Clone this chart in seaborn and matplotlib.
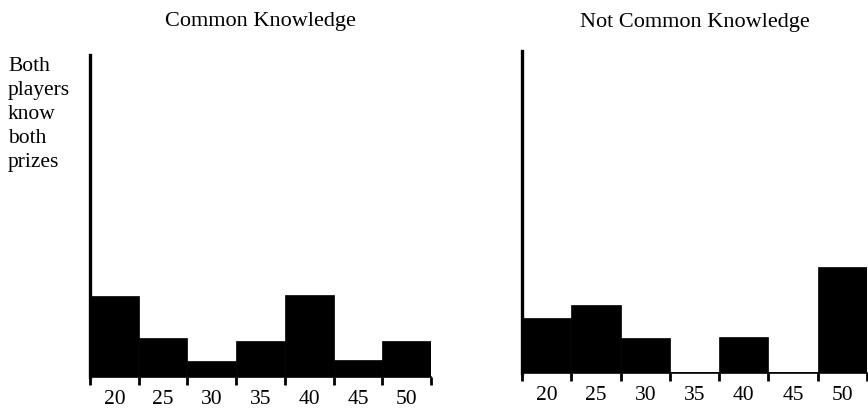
import matplotlib
matplotlib.use("Agg")
import matplotlib.pyplot as plt
import seaborn as sns
import pandas as pd

# Data (percent of choices per prize bin)
prizes = ["20", "25", "30", "35", "40", "45", "50"]
common_pct = [26.3, 12.6, 5.1, 11.7, 26.9, 5.6, 11.7]
not_common_pct = [18.0, 22.3, 11.4, 0.4, 11.9, 0.4, 34.6]

sns.set_style("white")
plt.rcParams["font.family"] = ["Liberation Serif", "DejaVu Serif"]
plt.rcParams["text.color"] = "black"
plt.rcParams["xtick.color"] = "black"
plt.rcParams["xtick.labelcolor"] = "black"

fig = plt.figure(figsize=(8.68, 4.08), dpi=100)
ax1 = fig.add_axes([90 / 868, 1 - 377 / 408, 341 / 868, 322 / 408])
ax2 = fig.add_axes([522 / 868, 1 - 373 / 408, 345 / 868, 322 / 408])

panels = [
    (ax1, common_pct, "Common Knowledge", 21),
    (ax2, not_common_pct, "Not Common Knowledge", 17),
]

for ax, vals, title, pad in panels:
    df = pd.DataFrame({"prize": prizes, "pct": vals})
    sns.barplot(data=df, x="prize", y="pct", color="black", width=1.0,
                saturation=1, edgecolor="black", linewidth=0.5, ax=ax)
    ax.set_xlim(-0.5, len(prizes) - 0.5)
    ax.set_ylim(0, 105)
    ax.set_xlabel("")
    ax.set_ylabel("")
    ax.set_yticks([])
    # labels at bar centres, tick marks at bin edges
    ax.set_xticks(range(len(prizes)), prizes)
    ax.set_xticks([i - 0.5 for i in range(len(prizes) + 1)], minor=True)
    ax.tick_params(axis="x", which="major", length=0, labelsize=15.5, pad=9,
                   labelcolor="black")
    ax.tick_params(axis="x", which="minor", length=6, width=2,
                   direction="out", color="black", bottom=True)
    for s in ["top", "right"]:
        ax.spines[s].set_visible(False)
    ax.spines["left"].set_linewidth(2.4)
    ax.spines["left"].set_color("black")
    ax.spines["bottom"].set_linewidth(1.2)
    ax.spines["bottom"].set_color("black")
    ax.set_title(title, fontsize=16, pad=pad, color="black")

fig.text(8 / 868, 1 - 57 / 408, "Both\nplayers\nknow\nboth\nprizes",
         fontsize=15.5, va="top", ha="left", linespacing=1.36, color="black")

fig.savefig("out.png", dpi=100)
